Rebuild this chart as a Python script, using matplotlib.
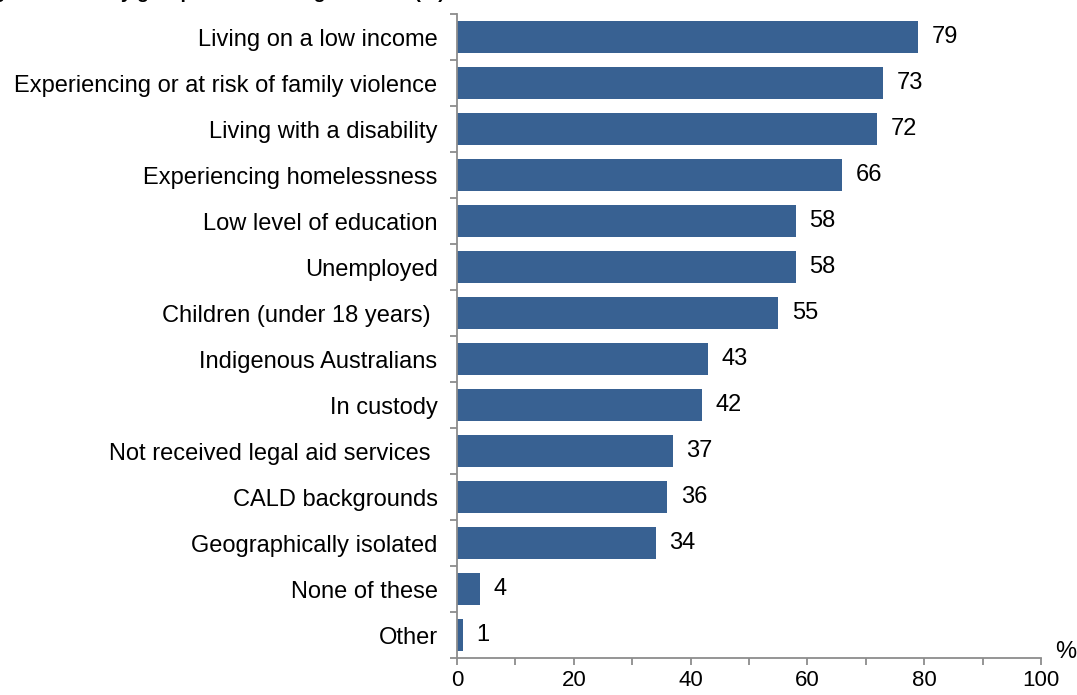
import matplotlib
matplotlib.use("Agg")
import matplotlib.pyplot as plt
import numpy as np

plt.rcParams['font.family'] = ['Liberation Sans', 'DejaVu Sans']

categories = [
    "Living on a low income",
    "Experiencing or at risk of family violence",
    "Living with a disability",
    "Experiencing homelessness",
    "Low level of education",
    "Unemployed",
    "Children (under 18 years) ",
    "Indigenous Australians",
    "In custody",
    "Not received legal aid services ",
    "CALD backgrounds",
    "Geographically isolated",
    "None of these",
    "Other",
]
values = [79, 73, 72, 66, 58, 58, 55, 43, 42, 37, 36, 34, 4, 1]

bar_color = "#386192"
axis_color = "#8c8c8c"
W, H = 1077, 695

fig = plt.figure(figsize=(W / 100, H / 100), dpi=100)
ax = fig.add_axes([457 / W, 1 - 658 / H, 584 / W, 644 / H])

y = np.arange(len(categories))
ax.barh(y, values, height=0.7, color=bar_color)
ax.set_ylim(len(categories) - 0.5, -0.5)
ax.set_xlim(0, 100)

# value labels next to the bars
for yi, v in zip(y, values):
    ax.text(v + 2.3, yi, str(v), va='center', ha='left', fontsize=17)

# axes styling
for side in ['top', 'right']:
    ax.spines[side].set_visible(False)
for side in ['left', 'bottom']:
    ax.spines[side].set_color(axis_color)
    ax.spines[side].set_linewidth(1.3)

ax.set_yticks(y)
ax.set_yticklabels(categories, fontsize=17)
ax.set_yticks(np.arange(-0.5, len(categories)), minor=True)
ax.tick_params(axis='y', which='major', length=0, pad=14)
ax.tick_params(axis='y', which='minor', length=5, width=1.3, color=axis_color, direction='out')

ax.set_xticks(np.arange(0, 101, 20))
ax.set_xticks(np.arange(10, 100, 20), minor=True)
ax.tick_params(axis='x', which='both', length=5, width=1.3, color=axis_color,
               direction='out', labelsize=16, pad=4)

fig.text(1066 / W, 1 - 652 / H, "%", fontsize=17, ha='center', va='center')

# title, mostly cut off by the top edge of the image
fig.text(-24 / W, 1 + 2 / H, "Figure 4: Priority groups for receiving services (%)",
         fontsize=14, fontweight='bold', ha='left', va='baseline')

fig.savefig("out.png", dpi=100)
